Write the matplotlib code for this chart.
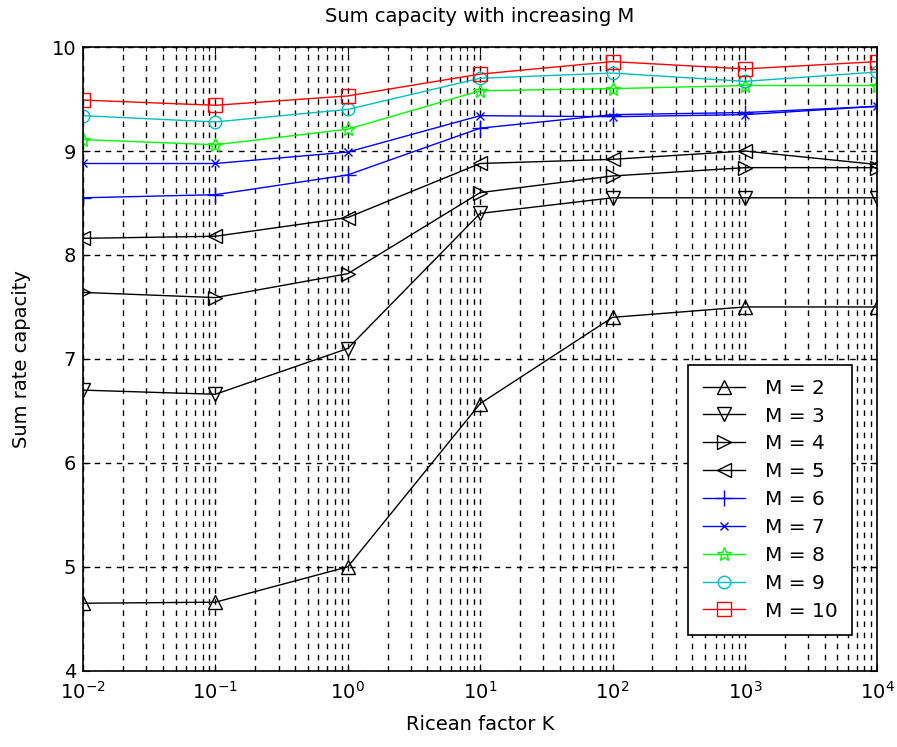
import matplotlib
matplotlib.use('Agg')
import matplotlib.pyplot as plt
from matplotlib.ticker import LogLocator, NullFormatter

# Ricean factor K values
K = [1e-2, 1e-1, 1e0, 1e1, 1e2, 1e3, 1e4]
xtick_labels = ['$10^{-2}$', '$10^{-1}$', '$10^{0}$', '$10^{1}$',
                '$10^{2}$', '$10^{3}$', '$10^{4}$']

# Sum rate capacity for each M
m2 = [4.65, 4.66, 5.00, 6.57, 7.40, 7.50, 7.50]
m3 = [6.70, 6.66, 7.10, 8.40, 8.55, 8.55, 8.55]
m4 = [7.64, 7.59, 7.82, 8.60, 8.76, 8.84, 8.84]
m5 = [8.16, 8.18, 8.36, 8.88, 8.92, 9.00, 8.87]
m6 = [8.55, 8.58, 8.77, 9.22, 9.35, 9.37, 9.43]
m7 = [8.88, 8.88, 8.99, 9.34, 9.33, 9.35, 9.43]
m8 = [9.11, 9.06, 9.21, 9.58, 9.60, 9.63, 9.63]
m9 = [9.34, 9.28, 9.40, 9.70, 9.75, 9.67, 9.76]
m10 = [9.49, 9.44, 9.53, 9.74, 9.86, 9.79, 9.86]

labels = ['M = %d' % m for m in range(2, 11)]
series = [m2, m3, m4, m5, m6, m7, m8, m9, m10]
markers = ['^', 'v', '>', '<', '+', 'x', '*', 'o', 's']
sizes = [10, 10, 10, 10, 11, 6, 10, 9, 10]
colors = ['k', 'k', 'k', 'k', 'b', 'b', '#00ff00', 'c', 'r']

plt.rcParams['font.family'] = ['DejaVu Sans']
plt.rcParams['mathtext.fontset'] = 'dejavusans'
plt.rcParams['mathtext.default'] = 'regular'

fig = plt.figure(figsize=(8.97, 7.47), dpi=100)
ax = fig.add_axes([0.0925, 0.102, 0.8855, 0.835])

# Plot each curve
for y, lab, mk, ms, c in zip(series, labels, markers, sizes, colors):
    ax.plot(K, y, color=c, marker=mk, markersize=ms, markerfacecolor='none',
            markeredgecolor=c, linewidth=1, markeredgewidth=1, label=lab)

# Axes setup
ax.set_xscale('log')
ax.set_xlim(1e-2, 1e4)
ax.set_ylim(4, 10)
ax.set_yticks([4, 5, 6, 7, 8, 9, 10])
ax.set_xticks(K)
ax.set_xticklabels(xtick_labels)
ax.xaxis.set_minor_locator(LogLocator(base=10, subs=range(2, 10), numticks=100))
ax.xaxis.set_minor_formatter(NullFormatter())
ax.tick_params(which='both', direction='in', top=True, right=True, labelsize=14)
ax.tick_params(which='major', length=5)
ax.tick_params(which='minor', length=3)
ax.tick_params(axis='x', pad=7)
ax.tick_params(axis='y', pad=5)

# Dashed grid
ax.grid(True, which='major', axis='both', color='k', linestyle=(0, (4, 4)), linewidth=1)
ax.grid(True, which='minor', axis='x', color='k', linestyle=(0, (4, 4)), linewidth=1)
for s in ax.spines.values():
    s.set_linewidth(1.2)

ax.set_title('Sum capacity with increasing M', fontsize=14, pad=18)
ax.set_xlabel('Ricean factor K', fontsize=14, labelpad=9)
ax.set_ylabel('Sum rate capacity', fontsize=14, labelpad=15)

leg = ax.legend(loc='lower right', bbox_to_anchor=(0.968, 0.058), fancybox=False,
                edgecolor='k', framealpha=1, fontsize=14.5, handlelength=2.1,
                handletextpad=1.0, labelspacing=0.44, borderpad=0.7,
                borderaxespad=0)
leg.get_frame().set_linewidth(1.2)

fig.savefig('out.png', dpi=100)
